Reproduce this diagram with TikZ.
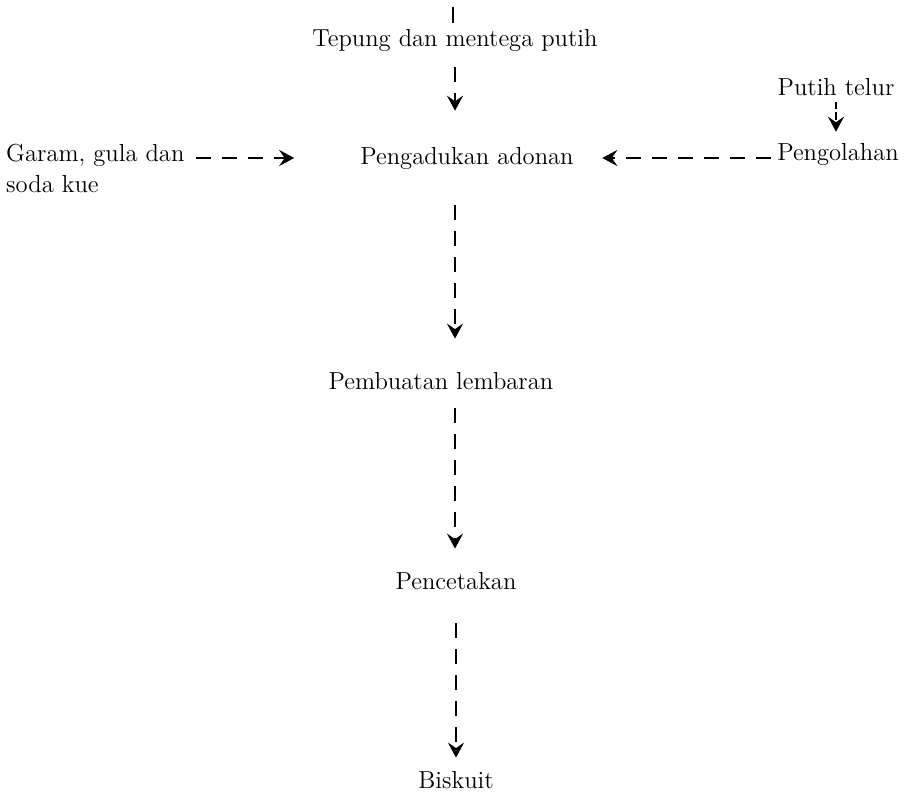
\documentclass[tikz,border=0pt]{standalone}
\usepackage{tikz}
\usetikzlibrary{calc,arrows.meta}
\newcommand{\flowcolor}{black}
\newcommand{\flowwidth}{0.45mm}

\begin{document}
\begin{tikzpicture}[font=\fontsize{14}{18}\selectfont,
  flow/.style={draw=\flowcolor, line width=\flowwidth, dash pattern=on 3mm off 2.2mm,
    -{Stealth[length=3mm, width=3.2mm, inset=1.1mm]}}]
\useasboundingbox (0,0) rectangle (18.16,-15.82);
\coordinate (top) at (9.06, -0.14);
\node (tepung) at (9.1, -0.8) {Tepung dan mentega putih};
\node (adukan) at (9.34, -3.16) {Pengadukan adonan};
\node (lembar) at (8.82, -7.62) {Pembuatan lembaran};
\node (cetak) at (9.12, -11.62) {Pencetakan};
\node (biskuit) at (9.12, -15.6) {Biskuit};
\node[align=left, anchor=west] (garam) at (0.0, -3.37) {Garam, gula dan\\soda kue};
\node (putih) at (16.72, -1.74) {Putih telur};
\node (olah) at (16.76, -3.08) {Pengolahan};
%main line
\draw[draw=\flowcolor, line width=\flowwidth, dash pattern=on 3.6mm off 2mm] (top) -- (top |- tepung.north);
\draw[flow] [shorten <=0.2cm, shorten >=0.6cm] (tepung.south) -- (tepung.south |- adukan.north);
\draw[flow] [shorten <=0.6cm, shorten >=0.55cm] (adukan.south -| tepung) -- (lembar.north -| tepung);
\draw[flow] [shorten <=0.25cm, shorten >=0.35cm] (lembar.south -| tepung) -- (cetak.north -| tepung);
\draw[flow] [shorten <=0.55cm, shorten >=0.15cm] (cetak.south) -- (biskuit.north);
%side inputs
\draw[flow] [shorten <=0.1cm, shorten >=1.2cm] (garam.east |- adukan.west) -- (adukan.west);
\draw[flow] [dash pattern=on 1.5mm off 0.6mm, shorten >=0.1cm] (putih.south) -- (putih.south |- olah.north);
\draw[flow] [shorten >=0.45cm] (olah.west |- adukan.east) -- (adukan.east);
\end{tikzpicture}
\end{document}
